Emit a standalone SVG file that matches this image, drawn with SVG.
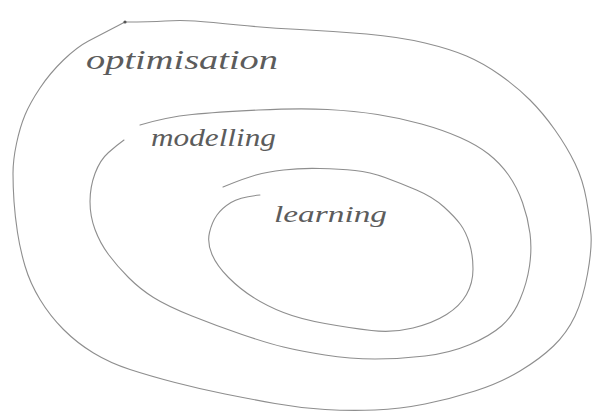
<svg xmlns="http://www.w3.org/2000/svg" width="606" height="416" viewBox="0 0 606 416">
<style>
.ring{fill:none;stroke:#8e8e8e;stroke-width:1.1;stroke-linecap:round;stroke-linejoin:round}
.lbl{font-family:"Liberation Serif","DejaVu Serif",serif;font-style:italic;fill:#5c5c5c}
</style>
<rect width="606" height="416" fill="#ffffff"/>
<g id="optimisation">
<path class="ring" d="M125,22 Q150,22 165,21 Q180,20 195,21 Q210,22 238.5,25 Q267,28 300,29.5 Q333,31 366.5,34 Q400,37 425,43 Q450,49 466.5,56 Q483,63 500,75 Q517,87 530,100 Q543,113 555,130 Q567,147 575,163.5 Q583,180 586.5,200 Q590,220 591,234.5 Q592,249 587.5,274 Q583,299 575,316 Q567,333 553.5,346 Q540,359 520,371 Q500,383 475,391 Q450,399 425,404 Q400,409 375,410 Q350,411 325,409.5 Q300,408 275,403.5 Q250,399 225,394 Q200,389 175,382.5 Q150,376 130,369.5 Q110,363 93.5,353 Q77,343 63.5,329.5 Q50,316 40,299.5 Q30,283 25,266 Q20,249 17.5,232.5 Q15,216 14,201.5 Q13,187 13,173.5 Q13,160 16.5,143.5 Q20,127 25,115 Q30,103 40,88 Q50,73 63.5,60 Q77,47 88.5,41 Q100,35 125,22"/>
<circle cx="125" cy="22" r="1.6" fill="#555"/>
<text class="lbl" x="86" y="69" font-size="28" textLength="192" lengthAdjust="spacingAndGlyphs">optimisation</text>
</g>
<g id="modelling">
<path class="ring" d="M140,125 Q167,117 192,114.5 Q217,112 258.5,110 Q300,108 327.5,109.5 Q355,111 377.5,114.5 Q400,118 421.5,124 Q443,130 460,137.5 Q477,145 488.5,154 Q500,163 508.5,175 Q517,187 522.5,202.5 Q528,218 530,233.5 Q532,249 529.5,266 Q527,283 520,299.5 Q513,316 501.5,326 Q490,336 470,344.5 Q450,353 425,356 Q400,359 375,359 Q350,359 325,355 Q300,351 283.5,347 Q267,343 242,334.5 Q217,326 192,316 Q167,306 153.5,297.5 Q140,289 128.5,277.5 Q117,266 108.5,254.5 Q100,243 95,229.5 Q90,216 90,201.5 Q90,187 95,173.5 Q100,160 108.5,152.5 Q117,145 124,140"/>
<text class="lbl" x="151" y="146" font-size="26" textLength="125" lengthAdjust="spacingAndGlyphs">modelling</text>
</g>
<g id="learning">
<path class="ring" d="M223,187 Q245,178 256,175 Q267,172 283.5,170 Q300,168 320,168.5 Q340,169 355,170.5 Q370,172 385,177.5 Q400,183 416.5,190 Q433,197 444,207 Q455,217 460.5,224.5 Q466,232 469.5,243.5 Q473,255 473,269 Q473,283 466.5,294.5 Q460,306 446.5,314.5 Q433,323 413,328 Q393,333 371.5,330.5 Q350,328 325,323.5 Q300,319 283.5,312.5 Q267,306 253.5,297.5 Q240,289 228.5,277.5 Q217,266 212,254.5 Q207,243 209.5,232.5 Q212,222 217,215 Q222,208 231,202.5 Q240,197 260,195"/>
<text class="lbl" x="274" y="222" font-size="24" textLength="113" lengthAdjust="spacingAndGlyphs">learning</text>
</g>
</svg>
